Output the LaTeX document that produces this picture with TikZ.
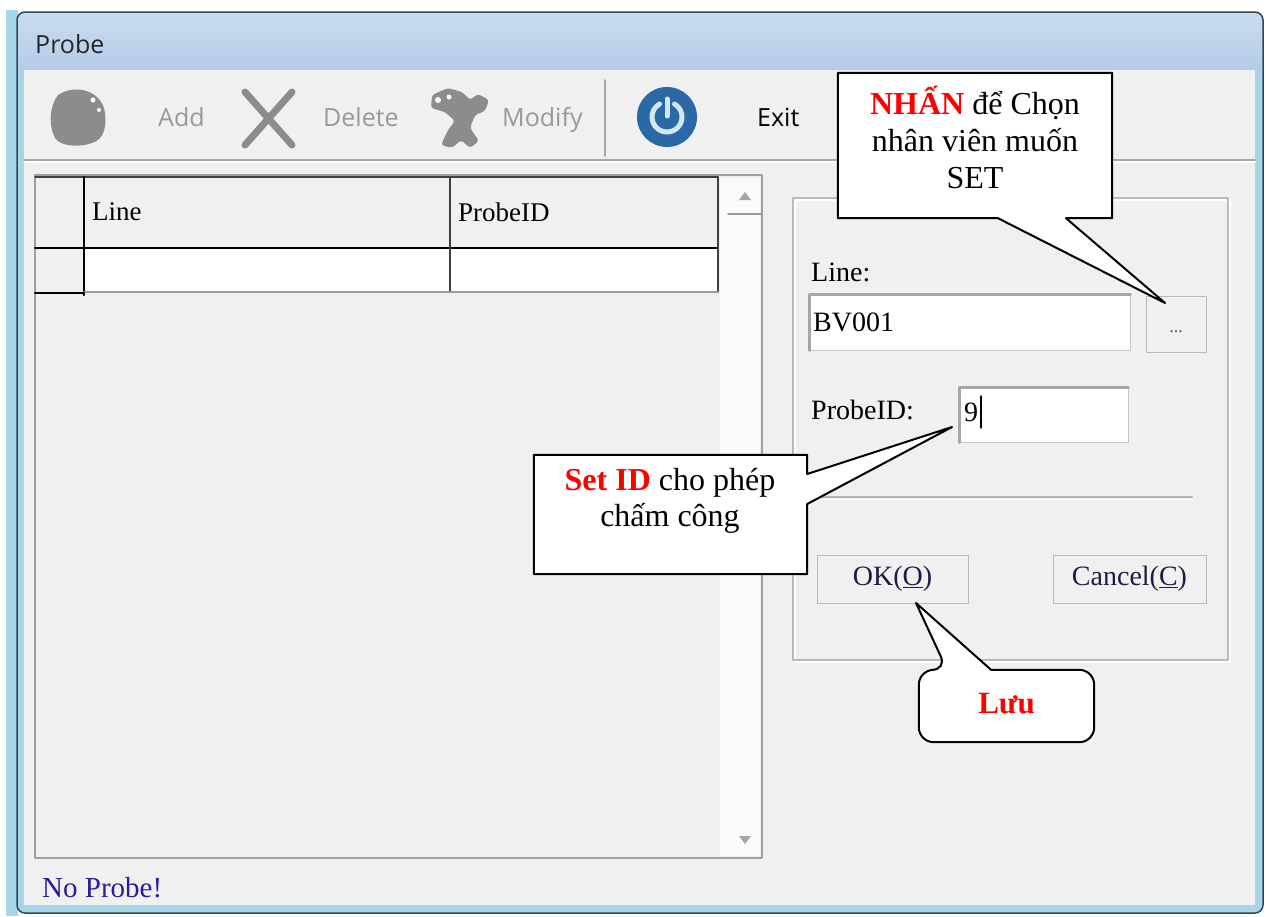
\documentclass[tikz,border=0pt]{standalone}
\usepackage{fontspec}
\setmainfont{Liberation Serif}
\newfontfamily\uifont{Open Sans}
\usetikzlibrary{positioning,calc}

\definecolor{clientbg}{HTML}{F0F0F0}
\definecolor{titletop}{HTML}{CADBEF}
\definecolor{titlebot}{HTML}{B3CBE7}
\definecolor{framedark}{HTML}{2E4858}
\definecolor{framecyan}{HTML}{A6D7E8}
\definecolor{icongray}{HTML}{8C8C8C}
\definecolor{powerblue}{HTML}{2B68A6}
\definecolor{powerring}{HTML}{D2E6F4}
\definecolor{statusblue}{HTML}{2A1C9C}
\definecolor{btntext}{HTML}{1C1C48}

\begin{document}
\begin{tikzpicture}[line cap=round,line join=round,x=1pt,y=-1pt,
  uisans/.style={font=\uifont\fontsize{25}{30}\selectfont,inner sep=0pt,anchor=base west},
  uiserif/.style={font=\fontsize{27}{32}\selectfont,inner sep=0pt,anchor=west},
  groupserif/.style={font=\fontsize{28}{32}\selectfont,inner sep=0pt},
  calloutbox/.style={inner sep=0pt,minimum width=#1},
  calloutline/.style={draw=black,line width=2pt,fill=white},
  callouttext/.style={font=\fontsize{32}{37}\selectfont,align=center,inner sep=0pt},
  raised/.style={fill=clientbg,draw=gray!55,line width=1pt},
  sunken/.style={fill=white,draw=gray!45,line width=1pt}]
\useasboundingbox (0,0) rectangle (1266,916);
\fill[white] (0,0) rectangle (1266,916);
% window frame
\fill[framecyan] (6,10) rectangle (18,916);
\fill[framecyan!80!titlebot,rounded corners=8] (17,12) rectangle (1263,913);
\shade[top color=titletop,bottom color=titlebot,rounded corners=7] (18,13) rectangle (1262,74);
\fill[clientbg] (24,70) rectangle (1255,905);
\draw[framedark,line width=1.5pt,rounded corners=8] (17,12) rectangle (1263,913);
\node[uisans,text=black!85] (title) at (35,53) {Probe};

% toolbar
\fill[icongray] (58,95) .. controls (75,84) and (98,90) .. (104,108)
  .. controls (108,125) and (104,140) .. (92,143) .. controls (78,148) and (60,146) .. (55,138)
  .. controls (48,125) and (50,105) .. (58,95) -- cycle;
\fill[white] (93,100) circle (2.5) (99,110) circle (2);
\node[uisans,text=gray!80] (add) at (158,126) {Add};
\draw[icongray,line width=7pt] (245,92) -- (292,145) (292,92) -- (245,145);
\node[uisans,text=gray!80] (delete) at (323,126) {Delete};
\fill[icongray,rounded corners=3] (432,95) -- (448,88) -- (462,92) -- (470,100) -- (478,94)
  -- (489,100) -- (485,111) -- (475,115) -- (470,128) -- (479,141) -- (470,148) -- (461,140)
  -- (452,148) -- (441,145) -- (448,130) -- (455,121) -- (445,112) -- (431,108) -- cycle;
\fill[white] (438,100) circle (3) (449,97) circle (2.5);
\node[uisans,text=gray!80] (modify) at (502,126) {Modify};
\draw[gray!70,line width=1.5pt] (605,80) -- (605,156);
\fill[powerblue] (667,117) circle (30);
\draw[powerring,line width=5pt] (667,117) ++(-60:15) arc (-60:240:15);
\draw[powerring,line width=5pt] (667,99) -- (667,116);
\node[uisans,text=black] (exit) at (757,126) {Exit};
\draw[gray!70,line width=1.5pt] (24,160) -- (1255,160);
\draw[white,line width=1.5pt] (24,162) -- (1255,162);

% grid
\draw[gray!75,line width=1.5pt] (35,175) rectangle (762,858);
\fill[white!96!gray] (720,178) rectangle (760,856);
\fill[white] (84,248) rectangle (718,292);
\draw[black!75,line width=1.5pt] (35,177) -- (718,177);
\draw[black,line width=2pt] (35,248) -- (718,248);
\draw[black,line width=2.5pt] (84,177) -- (84,295);
\draw[black!75,line width=1.5pt] (450,177) -- (450,292) (718,177) -- (718,292);
\draw[gray!80,line width=1.5pt] (84,292) -- (718,292);
\draw[black,line width=2pt] (35,293) -- (84,293);
\node[uiserif] (hdrline) at (92,212) {Line};
\node[uiserif] (hdrprobe) at (458,212) {ProbeID};
\fill[gray!70] (739,200) -- (751,200) -- (745,192) -- cycle;
\draw[gray!80,line width=2pt] (728,214) -- (762,214);
\fill[gray!70] (739,836) -- (751,836) -- (745,844) -- cycle;

% group box
\draw[white,line width=1.5pt] (795,200) rectangle (1230,662);
\draw[gray!55,line width=1.5pt] (793,198) rectangle (1228,660);
\node[groupserif,anchor=west] (linelbl) at (811,272) {Line:};
\node[sunken] (linebox) at (970,322.5) [minimum width=320,minimum height=55] {};
\draw[gray!70,line width=2.5pt] (linebox.south west) -- (linebox.north west) -- (linebox.north east);
\node[groupserif,anchor=west] (lineval) at (813,322) {BV001};
\node[raised,minimum width=60,minimum height=56] (dots) at (1176,324) {};
\node[font=\fontsize{18}{20}\selectfont,text=gray!70!black] at (1176,332) {...};
\node[groupserif,anchor=west] (probelbl) at (811,410) {ProbeID:};
\node[sunken] (probebox) at (1044,415) [minimum width=168,minimum height=54] {};
\draw[gray!70,line width=2.5pt] (probebox.south west) -- (probebox.north west) -- (probebox.north east);
\node[groupserif,anchor=west] (probeval) at (964,412) {9};
\draw[black,line width=1.2pt] (981,396) -- (981,428);
\draw[gray!60,line width=2pt] (820,497) -- (1192,497);
\draw[white,line width=1pt] (820,499.5) -- (1192,499.5);
\node[raised,minimum width=151,minimum height=48] (okbtn) at (892.5,579) {};
\node[groupserif,text=btntext] at (okbtn) {OK(\underline{O})};
\node[raised,minimum width=153,minimum height=48] (cancelbtn) at (1129.5,579) {};
\node[groupserif,text=btntext] at (cancelbtn) {Cancel(\underline{C})};
\node[font=\fontsize{29}{32}\selectfont,text=statusblue,inner sep=0pt,anchor=west] (status) at (42,888) {No Probe!};

% callouts
\coordinate (dotstip) at (1165,303);
\coordinate (probetip) at (952,427);
\coordinate (oktip) at (916,603);
\node[calloutbox=274,minimum height=145] (nhan) at (975,145.5) {};
\draw[calloutline] (nhan.north west) -- (nhan.north east) -- (nhan.south east)
  -- ([xshift=91]nhan.south) -- (dotstip) -- ([xshift=23]nhan.south) -- (nhan.south west) -- cycle;
\node[callouttext] at (975,137) {{\color{red}\bfseries NHẤN} để Chọn\\nhân viên muốn\\SET};
\node[calloutbox=273,minimum height=119] (setid) at (670.5,514.5) {};
\draw[calloutline] (setid.north west) -- (setid.north east) -- ([yshift=40.5]setid.east)
  -- (probetip) -- ([yshift=10.5]setid.east) -- (setid.south east) -- (setid.south west) -- cycle;
\node[callouttext,font=\fontsize{32}{36}\selectfont] at (670,501) {{\color{red}\bfseries Set ID} cho phép\\chấm công};
\node[calloutbox=175,minimum height=72] (luu) at (1006.5,706) {};
\draw[calloutline] (oktip) -- ([xshift=-15.5]luu.north) [rounded corners=15] -- (luu.north east)
  -- (luu.south east) -- (luu.south west) -- (luu.north west) -- ([xshift=-59.5]luu.north)
  [sharp corners] -- cycle;
\node[callouttext,text=red,font=\fontsize{31}{36}\selectfont\bfseries] at (1006.5,704) {Lưu};
\end{tikzpicture}
\end{document}
